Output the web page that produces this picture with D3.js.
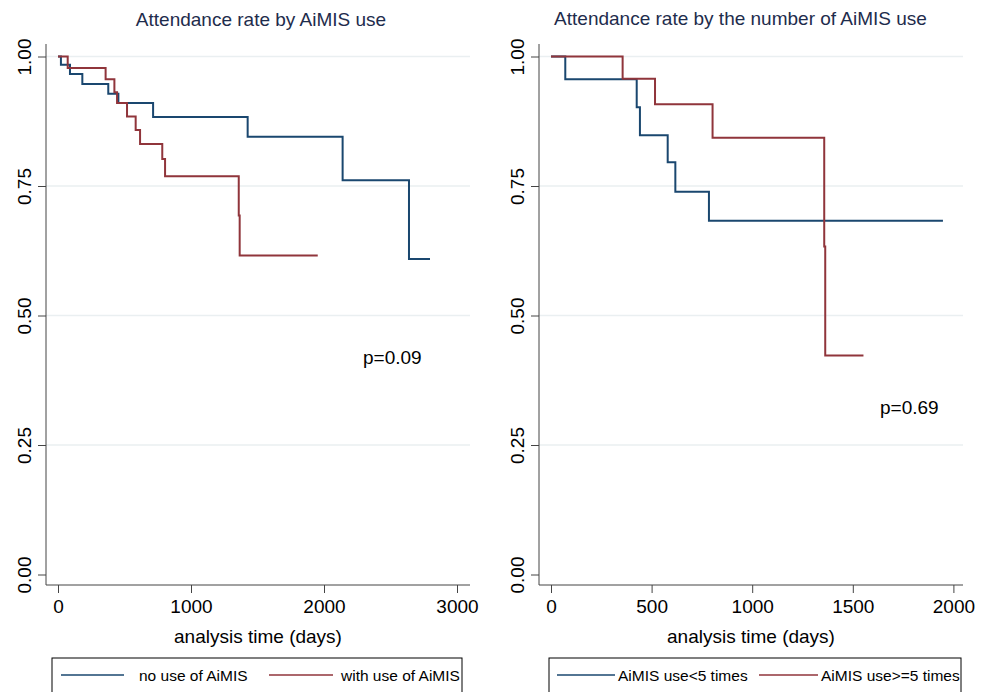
<!DOCTYPE html>
<html>
<head>
<meta charset="utf-8">
<title>Attendance rate by AiMIS use</title>
<script src="https://d3js.org/d3.v7.min.js"></script>
<style>
  body { margin: 0; background: #fff; }
  svg { font-family: "Liberation Sans", Arial, sans-serif; display: block; }
  .axis path, .axis line { stroke: #444; }
  .axis text { fill: #000; font-size: 19px; }
</style>
</head>
<body>
<div id="chart"></div>
<script>
// ---- data ----
// left panel: attendance by AiMIS use
var noUseTime   = [0, 22, 90, 183, 378, 454, 715, 1426, 2140, 2639, 2797];
var noUseSurv   = [1, 0.984, 0.966, 0.947, 0.928, 0.910, 0.883, 0.845, 0.761, 0.609, 0.609];
var withUseTime = [0, 73, 358, 424, 444, 519, 584, 617, 784, 805, 1359, 1366, 1953];
var withUseSurv = [1, 0.978, 0.956, 0.931, 0.910, 0.884, 0.858, 0.831, 0.802, 0.769, 0.693, 0.616, 0.616];

// right panel: attendance by number of AiMIS use
var lt5Time = [0, 71, 426, 442, 580, 618, 785, 1948];
var lt5Surv = [1, 0.956, 0.902, 0.848, 0.796, 0.739, 0.683, 0.683];
var ge5Time = [0, 356, 517, 803, 1358, 1363, 1553];
var ge5Surv = [1, 0.957, 0.908, 0.843, 0.633, 0.423, 0.423];

var yTicks = [0, 0.25, 0.5, 0.75, 1];
var leftXTicks = [0, 1000, 2000, 3000];
var rightXTicks = [0, 500, 1000, 1500, 2000];

var blue = "#1a476f", red = "#90353b";

var width = 984, height = 692;
var svg = d3.select("#chart").append("svg").attr("width", width).attr("height", height);

function toPoints(times, surv) {
  return times.map(function(t, i) { return {t: t, s: surv[i]}; });
}

function panel(opt) {
  var g = svg.append("g");
  var x = d3.scaleLinear().domain(opt.xDomain).range(opt.xRange);
  var y = d3.scaleLinear().domain([0, 1]).range([574.5, 56.5]);
  var axisLeftX = opt.axisX, axisRight = opt.axisEnd, axisY = 585;

  // grid
  g.selectAll("line.grid")
    .data(yTicks.filter(function(d) { return d > 0; }))
    .enter().append("line")
    .attr("class", "grid")
    .attr("x1", axisLeftX).attr("x2", axisRight)
    .attr("y1", d => y(d)).attr("y2", d => y(d))
    .attr("stroke", "#eaeff1")
    .attr("stroke-width", 1.5);

  // y axis
  var ya = g.append("g").attr("class", "axis")
    .attr("transform", "translate(" + axisLeftX + ",0)")
    .call(d3.axisLeft(y).tickValues(yTicks).tickFormat(d3.format(".2f")).tickSize(8).tickSizeOuter(0));
  ya.select(".domain").attr("d", "M0,44V" + axisY);
  ya.selectAll(".tick text")
    .attr("x", 0).attr("dy", 0)
    .attr("transform", "translate(-15,0) rotate(-90)")
    .attr("text-anchor", "middle");

  // x axis
  var xa = g.append("g").attr("class", "axis")
    .attr("transform", "translate(0," + axisY + ")")
    .call(d3.axisBottom(x).tickValues(opt.xTicks).tickFormat(d3.format("d")).tickSize(8).tickSizeOuter(0));
  xa.select(".domain").attr("d", "M" + axisLeftX + ",0H" + axisRight);
  xa.selectAll(".tick text").attr("y", 28).attr("dy", 0);

  // axis title
  g.append("text")
    .attr("x", (axisLeftX + axisRight) / 2)
    .attr("y", 643)
    .attr("text-anchor", "middle")
    .style("font-size", "19px")
    .text("analysis time (days)");

  // title
  g.append("text")
    .attr("x", opt.titleX)
    .attr("y", opt.titleY)
    .attr("text-anchor", "middle")
    .attr("fill", "#1e2c4c")
    .style("font-size", "19px")
    .text(opt.title);

  // curves
  var line = d3.line().curve(d3.curveStepAfter).x(d => x(d.t)).y(d => y(d.s));
  opt.series.forEach(function(s) {
    g.append("path")
      .datum(toPoints(s.time, s.surv))
      .attr("fill", "none")
      .attr("stroke", s.color)
      .attr("stroke-width", 2)
      .attr("d", line);
  });

  // p value
  g.append("text")
    .attr("x", opt.pX).attr("y", opt.pY)
    .style("font-size", "19px")
    .text(opt.pText);

  // legend
  var lg = g.append("g");
  lg.append("rect")
    .attr("x", opt.legend.x).attr("y", 658)
    .attr("width", opt.legend.w).attr("height", 60)
    .attr("fill", "#fff").attr("stroke", "#000").attr("stroke-width", 1);
  opt.series.forEach(function(s, i) {
    var it = opt.legend.items[i];
    lg.append("line")
      .attr("x1", it.x1).attr("x2", it.x2)
      .attr("y1", 675).attr("y2", 675)
      .attr("stroke", s.color).attr("stroke-width", 1.5);
    lg.append("text")
      .attr("x", it.tx).attr("y", 681)
      .style("font-size", "15.5px")
      .text(s.name);
  });
}

panel({
  xDomain: [0, 1000], xRange: [58, 191],
  axisX: 46, axisEnd: 470,
  xTicks: leftXTicks,
  title: "Attendance rate by AiMIS use", titleX: 261, titleY: 26,
  pText: "p=0.09", pX: 363, pY: 364,
  series: [
    {name: "no use of AiMIS", time: noUseTime, surv: noUseSurv, color: blue},
    {name: "with use of AiMIS", time: withUseTime, surv: withUseSurv, color: red}
  ],
  legend: {x: 52, w: 410, items: [
    {x1: 61, x2: 124, tx: 139},
    {x1: 269, x2: 333, tx: 341}
  ]}
});

panel({
  xDomain: [0, 500], xRange: [551, 651.6],
  axisX: 539, axisEnd: 963,
  xTicks: rightXTicks,
  title: "Attendance rate by the number of AiMIS use", titleX: 740.5, titleY: 25,
  pText: "p=0.69", pX: 880, pY: 414,
  series: [
    {name: "AiMIS use<5 times", time: lt5Time, surv: lt5Surv, color: blue},
    {name: "AiMIS use>=5 times", time: ge5Time, surv: ge5Surv, color: red}
  ],
  legend: {x: 549, w: 412, items: [
    {x1: 557, x2: 615, tx: 618},
    {x1: 759, x2: 818, tx: 821}
  ]}
});
</script>
</body>
</html>
